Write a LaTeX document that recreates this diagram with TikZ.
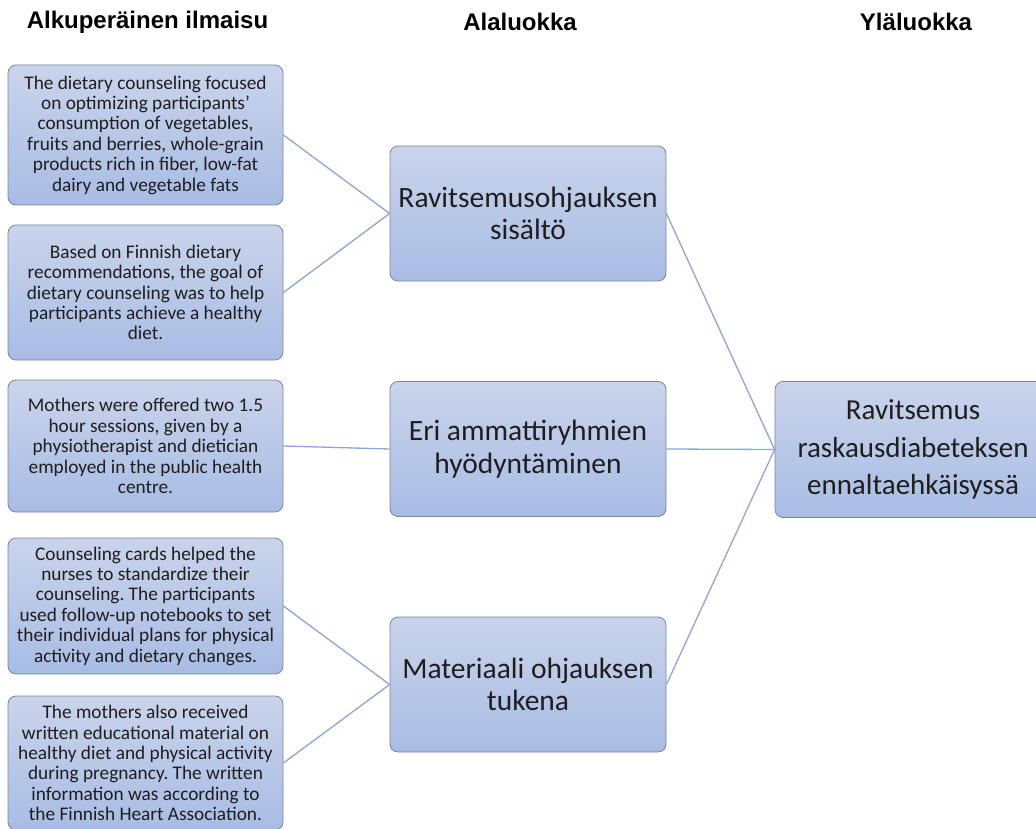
\documentclass[tikz,border=0pt]{standalone}
\usepackage{fontspec}
\setmainfont{Carlito}
\newfontfamily\headfont{Liberation Sans}
\frenchspacing
\definecolor{boxtop}{HTML}{CAD4EB}
\definecolor{boxbot}{HTML}{A8BCE4}
\definecolor{boxline}{HTML}{7A859B}
\definecolor{linkcol}{HTML}{8EA5D8}
\definecolor{txt}{HTML}{1E1E1E}
\tikzset{
  card/.style={draw=boxline, line width=0.8pt, rounded corners=8pt, top color=boxtop, bottom color=boxbot, text=txt, align=center, inner sep=2pt},
  srcbox/.style={card, minimum width=275pt, font=\fontsize{19.3}{20.4}\selectfont},
  subbox/.style={card, minimum width=276pt, minimum height=135pt, font=\fontsize{29.5}{32.5}\selectfont},
  topbox/.style={card, minimum width=276pt, minimum height=136pt, font=\fontsize{29}{37.5}\selectfont},
  head/.style={font=\headfont\bfseries\fontsize{24}{27}\selectfont, text=black},
  link/.style={draw=linkcol, line width=1.3pt}
}
\begin{document}
\begin{tikzpicture}[x=1pt,y=-1pt]
\useasboundingbox (0,0) rectangle (1036,829);
\node[head] (h1) at (147.5,22) {Alkuperäinen ilmaisu};
\node[head] (h2) at (520,22) {Alaluokka};
\node[head] (h3) at (916,22) {Yläluokka};

\node[srcbox, minimum height=140pt] (s1) at (145.5,135) {The dietary counseling focused\\on optimizing participants’\\consumption of vegetables,\\fruits and berries, whole-grain\\products rich in fiber, low-fat\\dairy and vegetable fats};
\node[srcbox, minimum height=135pt] (s2) at (145.5,292.5) {Based on Finnish dietary\\recommendations, the goal of\\dietary counseling was to help\\participants achieve a healthy\\diet.};
\node[srcbox, minimum height=132pt] (s3) at (145.5,446) {Mothers were offered two 1.5\\hour sessions, given by a\\physiotherapist and dietician\\employed in the public health\\centre.};
\node[srcbox, minimum height=136pt] (s4) at (145.5,606) {Counseling cards helped the\\nurses to standardize their\\counseling. The participants\\used follow-up notebooks to set\\their individual plans for physical\\activity and dietary changes.};
\node[srcbox, minimum height=134pt] (s5) at (145.5,763) {The mothers also received\\written educational material on\\healthy diet and physical activity\\during pregnancy. The written\\information was according to\\the Finnish Heart Association.};

\node[subbox] (m1) at (528,213.5) {Ravitsemusohjauksen\\sisältö};
\node[subbox] (m2) at (528,449) {Eri ammattiryhmien\\hyödyntäminen};
\node[subbox] (m3) at (528,684.5) {Materiaali ohjauksen\\tukena};

\node[topbox] (t1) at (913,449.5) {Ravitsemus\\raskausdiabeteksen\\ennaltaehkäisyssä};

\begin{scope}[on background layer/.try]
\draw[link] (s1.east) -- (m1.west);
\draw[link] (s2.east) -- (m1.west);
\draw[link] (s3.east) -- (m2.west);
\draw[link] (s4.east) -- (m3.west);
\draw[link] (s5.east) -- (m3.west);
\draw[link] (m1.east) -- (t1.west);
\draw[link] (m2.east) -- (t1.west);
\draw[link] (m3.east) -- (t1.west);
\end{scope}
\end{tikzpicture}
\end{document}
